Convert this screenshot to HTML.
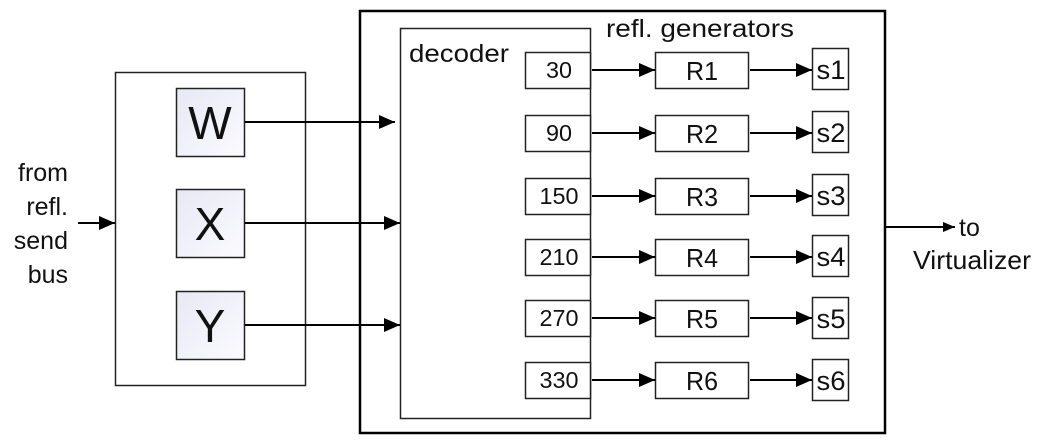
<!DOCTYPE html>
<html><head><meta charset="utf-8"><style>
html,body{margin:0;padding:0;background:#fff;}
svg{display:block;}
text{font-family:"Liberation Sans",sans-serif;fill:#111;}
</style></head><body>
<svg width="1041" height="444" viewBox="0 0 1041 444" xmlns="http://www.w3.org/2000/svg">
<defs>
<marker id="a" markerWidth="12" markerHeight="10" refX="12" refY="5" orient="auto" markerUnits="userSpaceOnUse" viewBox="0 0 12 10"><path d="M0,0 L12,5 L0,10 z" fill="#000"/></marker>
<marker id="b" markerWidth="16" markerHeight="14" refX="16" refY="7" orient="auto" markerUnits="userSpaceOnUse" viewBox="0 0 16 14"><path d="M0,0 L16,7 L0,14 z" fill="#000"/></marker>
<linearGradient id="g" x1="0" y1="0" x2="1" y2="1"><stop offset="0" stop-color="#e8e8f4"/><stop offset="1" stop-color="#fbfbff"/></linearGradient>
</defs>
<g font-size="25" text-anchor="end">
<text x="68" y="181">from</text>
<text x="68" y="215">refl.</text>
<text x="68" y="249">send</text>
<text x="68" y="283">bus</text>
</g>
<line x1="78" y1="223" x2="115" y2="223" stroke="#000" stroke-width="2" marker-end="url(#b)"/>
<rect x="115.5" y="72.5" width="190" height="313" fill="none" stroke="#222" stroke-width="1.5"/>
<g stroke="#222" stroke-width="1.5" fill="url(#g)">
<rect x="176.5" y="88.5" width="68" height="68"/>
<rect x="176.5" y="189.5" width="68" height="68"/>
<rect x="176.5" y="291.5" width="68" height="68"/>
</g>
<g font-size="46" text-anchor="middle">
<text x="210" y="139">W</text>
<text x="210" y="240">X</text>
<text x="210" y="342">Y</text>
</g>
<rect x="360" y="11" width="525" height="422" fill="none" stroke="#000" stroke-width="2.5"/>
<rect x="400.5" y="28.5" width="190" height="390" fill="none" stroke="#222" stroke-width="1.5"/>
<text x="409" y="62" font-size="25" textLength="100" lengthAdjust="spacingAndGlyphs">decoder</text>
<text x="606" y="37" font-size="25" textLength="188" lengthAdjust="spacingAndGlyphs">refl. generators</text>
<g stroke="#000" stroke-width="2">
<line x1="245" y1="122" x2="395" y2="122" marker-end="url(#b)"/>
<line x1="245" y1="223" x2="400" y2="223" marker-end="url(#b)"/>
<line x1="245" y1="325" x2="400" y2="325" marker-end="url(#b)"/>
<line x1="886" y1="227" x2="955" y2="227" marker-end="url(#a)"/>
</g>
<text x="959" y="236" font-size="25">to</text>
<text x="913" y="269" font-size="26" textLength="118" lengthAdjust="spacingAndGlyphs">Virtualizer</text>
<g stroke="#222" stroke-width="1.5" fill="#fff">
<rect x="525.5" y="52.5" width="65" height="36"/><rect x="655.5" y="52.5" width="93" height="36"/><rect x="812.5" y="48.5" width="36" height="41"/>
<rect x="525.5" y="115.5" width="65" height="36"/><rect x="655.5" y="115.5" width="93" height="36"/><rect x="812.5" y="111.5" width="36" height="41"/>
<rect x="525.5" y="178.5" width="65" height="36"/><rect x="655.5" y="178.5" width="93" height="36"/><rect x="812.5" y="174.5" width="36" height="41"/>
<rect x="525.5" y="239.5" width="65" height="36"/><rect x="655.5" y="239.5" width="93" height="36"/><rect x="812.5" y="235.5" width="36" height="41"/>
<rect x="525.5" y="300.5" width="65" height="36"/><rect x="655.5" y="300.5" width="93" height="36"/><rect x="812.5" y="297.5" width="36" height="41"/>
<rect x="525.5" y="362.5" width="65" height="36"/><rect x="655.5" y="362.5" width="93" height="36"/><rect x="812.5" y="359.5" width="36" height="41"/>
</g>
<g stroke="#000" stroke-width="2">
<line x1="592" y1="70" x2="655" y2="70" marker-end="url(#b)"/><line x1="750" y1="70" x2="812" y2="70" marker-end="url(#b)"/>
<line x1="592" y1="133" x2="655" y2="133" marker-end="url(#b)"/><line x1="750" y1="133" x2="812" y2="133" marker-end="url(#b)"/>
<line x1="592" y1="196" x2="655" y2="196" marker-end="url(#b)"/><line x1="750" y1="196" x2="812" y2="196" marker-end="url(#b)"/>
<line x1="592" y1="257" x2="655" y2="257" marker-end="url(#b)"/><line x1="750" y1="257" x2="812" y2="257" marker-end="url(#b)"/>
<line x1="592" y1="318" x2="655" y2="318" marker-end="url(#b)"/><line x1="750" y1="318" x2="812" y2="318" marker-end="url(#b)"/>
<line x1="592" y1="380" x2="655" y2="380" marker-end="url(#b)"/><line x1="750" y1="380" x2="812" y2="380" marker-end="url(#b)"/>
</g>
<g font-size="23" text-anchor="middle">
<text x="559" y="78" textLength="26" lengthAdjust="spacingAndGlyphs">30</text><text x="559" y="141" textLength="26" lengthAdjust="spacingAndGlyphs">90</text><text x="559" y="204" textLength="39" lengthAdjust="spacingAndGlyphs">150</text>
<text x="559" y="265" textLength="39" lengthAdjust="spacingAndGlyphs">210</text><text x="559" y="326" textLength="39" lengthAdjust="spacingAndGlyphs">270</text><text x="559" y="388" textLength="39" lengthAdjust="spacingAndGlyphs">330</text>
</g>
<g font-size="26" text-anchor="middle">
<text x="702" y="80" textLength="32" lengthAdjust="spacingAndGlyphs">R1</text><text x="702" y="143" textLength="32" lengthAdjust="spacingAndGlyphs">R2</text><text x="702" y="206" textLength="32" lengthAdjust="spacingAndGlyphs">R3</text>
<text x="702" y="267" textLength="32" lengthAdjust="spacingAndGlyphs">R4</text><text x="702" y="328" textLength="32" lengthAdjust="spacingAndGlyphs">R5</text><text x="702" y="390" textLength="32" lengthAdjust="spacingAndGlyphs">R6</text>
</g>
<g font-size="27" text-anchor="middle">
<text x="831" y="79" textLength="29" lengthAdjust="spacingAndGlyphs">s1</text><text x="831" y="142" textLength="29" lengthAdjust="spacingAndGlyphs">s2</text><text x="831" y="205" textLength="29" lengthAdjust="spacingAndGlyphs">s3</text>
<text x="831" y="266" textLength="29" lengthAdjust="spacingAndGlyphs">s4</text><text x="831" y="328" textLength="29" lengthAdjust="spacingAndGlyphs">s5</text><text x="831" y="390" textLength="29" lengthAdjust="spacingAndGlyphs">s6</text>
</g>
</svg>
</body></html>
